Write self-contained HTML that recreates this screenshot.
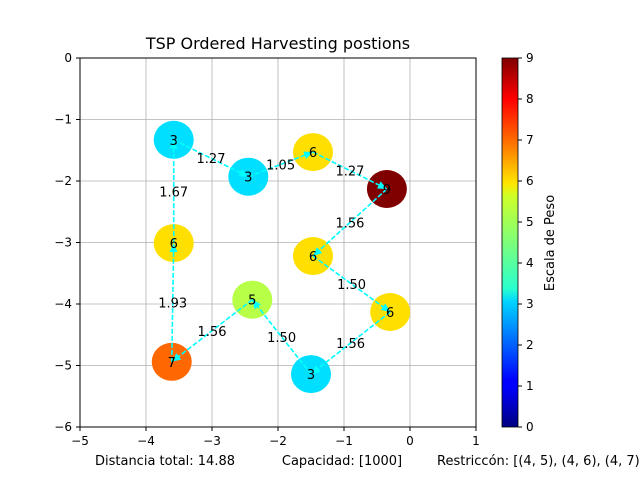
<!DOCTYPE html>
<html><head><meta charset="utf-8"><style>
body{margin:0;background:#fff;overflow:hidden}
svg text{font-family:"DejaVu Sans","Liberation Sans",sans-serif}
</style></head><body>
<svg width="640" height="480" viewBox="0 0 640 480" xmlns="http://www.w3.org/2000/svg">
<defs>
<linearGradient id="jet" x1="0" y1="1" x2="0" y2="0">
<stop offset="0" stop-color="#000080"/><stop offset="0.11" stop-color="#0000ff"/>
<stop offset="0.125" stop-color="#0000ff"/><stop offset="0.34" stop-color="#00d4ff"/>
<stop offset="0.375" stop-color="#29ffce"/><stop offset="0.5" stop-color="#7dff7a"/>
<stop offset="0.625" stop-color="#ceff29"/><stop offset="0.66" stop-color="#ffe600"/>
<stop offset="0.78" stop-color="#ff6800"/><stop offset="0.89" stop-color="#ff0000"/>
<stop offset="1" stop-color="#800000"/>
</linearGradient>
<marker id="arr" markerWidth="10" markerHeight="10" refX="9" refY="5" orient="auto" markerUnits="userSpaceOnUse">
<path d="M0,1 L9,5 L0,9 Z" fill="#00ffff"/></marker>
</defs>
<text x="278" y="49" font-size="16" text-anchor="middle">TSP Ordered Harvesting postions</text>
<g id="grid"></g>
<g id="marks"></g>
<rect x="80" y="58" width="396" height="369" fill="none" stroke="#000" stroke-width="1"/>
<g id="axes"></g>
<rect x="502" y="58" width="16" height="369" fill="url(#jet)" stroke="#000" stroke-width="0.8"/>
<g id="cbticks"></g>
<text transform="translate(554,243) rotate(-90)" font-size="13" text-anchor="middle">Escala de Peso</text>
<text x="165" y="465" font-size="13" text-anchor="middle">Distancia total: 14.88</text>
<text x="342" y="465" font-size="13" text-anchor="middle">Capacidad: [1000]</text>
<text x="437" y="465" font-size="13">Restriccón: [(4, 5), (4, 6), (4, 7)]</text>
</svg>
<script>
const xs=[-3.58,-2.45,-1.47,-0.35,-1.47,-0.30,-1.50,-2.39,-3.61,-3.58];
const ys=[-1.33,-1.93,-1.53,-2.13,-3.22,-4.13,-5.14,-3.93,-4.94,-3.01];
const weights=[3,3,6,9,6,6,3,5,7,6];
const dists=["1.27","1.05","1.27","1.56","1.50","1.56","1.50","1.56","1.93","1.67"];
const xticks=[-5,-4,-3,-2,-1,0,1];
const yticks=[0,-1,-2,-3,-4,-5,-6];
const cticks=[0,1,2,3,4,5,6,7,8,9];
const NS="http://www.w3.org/2000/svg";
const X=v=>80+(v+5)*66, Y=v=>58-v*61.5, C=v=>427-v/9*369;
function mk(t,a,p){const e=document.createElementNS(NS,t);for(const k in a)e.setAttribute(k,a[k]);p.appendChild(e);return e;}
function jet(t){const f=x=>Math.max(0,Math.min(1,1.5-Math.abs(4*t-x)));return `rgb(${Math.round(f(3)*255)},${Math.round(Math.min(1,f(2)*1.05)*255)},${Math.round(f(1)*255)})`;}
const G=document.getElementById('grid'),M=document.getElementById('marks'),A=document.getElementById('axes'),CB=document.getElementById('cbticks');
xticks.forEach(v=>{const l=mk('line',{x1:X(v),x2:X(v),y1:58,y2:427,stroke:'#b0b0b0','stroke-width':0.8},G);

mk('line',{x1:X(v),x2:X(v),y1:427,y2:431,stroke:'#000'},A);
const t=mk('text',{x:X(v),y:445,'font-size':12,'text-anchor':'middle'},A);t.textContent=v<0?'−'+(-v):v;
});
yticks.forEach(v=>{const l=mk('line',{x1:80,x2:476,y1:Y(v),y2:Y(v),stroke:'#b0b0b0','stroke-width':0.8},G);

mk('line',{x1:76,x2:80,y1:Y(v),y2:Y(v),stroke:'#000'},A);
const t=mk('text',{x:72,y:Y(v)+4,'font-size':12,'text-anchor':'end'},A);t.textContent=v<0?'−'+(-v):v;
});
cticks.forEach(v=>{mk('line',{x1:518,x2:522,y1:C(v),y2:C(v),stroke:'#000'},CB);
const t=mk('text',{x:526,y:C(v)+4,'font-size':12},CB);t.textContent=v;
});
xs.forEach((x,i)=>{const e=mk('ellipse',{cx:X(x),cy:Y(ys[i]),rx:20,ry:19,fill:jet(weights[i]/9)},M);
});
xs.forEach((x,i)=>{const j=(i+1)%xs.length;const x1=X(x),y1=Y(ys[i]),x2=X(xs[j]),y2=Y(ys[j]);
const l=mk('line',{x1,y1,x2,y2,stroke:'#00ffff','stroke-width':1.6,'stroke-dasharray':'5,2','marker-end':'url(#arr)'},M);

const t=mk('text',{x:(x1+x2)/2,y:(y1+y2)/2+5,'font-size':13,'text-anchor':'middle'},M);t.textContent=dists[i];
});
xs.forEach((x,i)=>{const t=mk('text',{x:X(x),y:Y(ys[i])+5,'font-size':13,'text-anchor':'middle'},M);t.textContent=weights[i];
});
</script>
</body></html>
